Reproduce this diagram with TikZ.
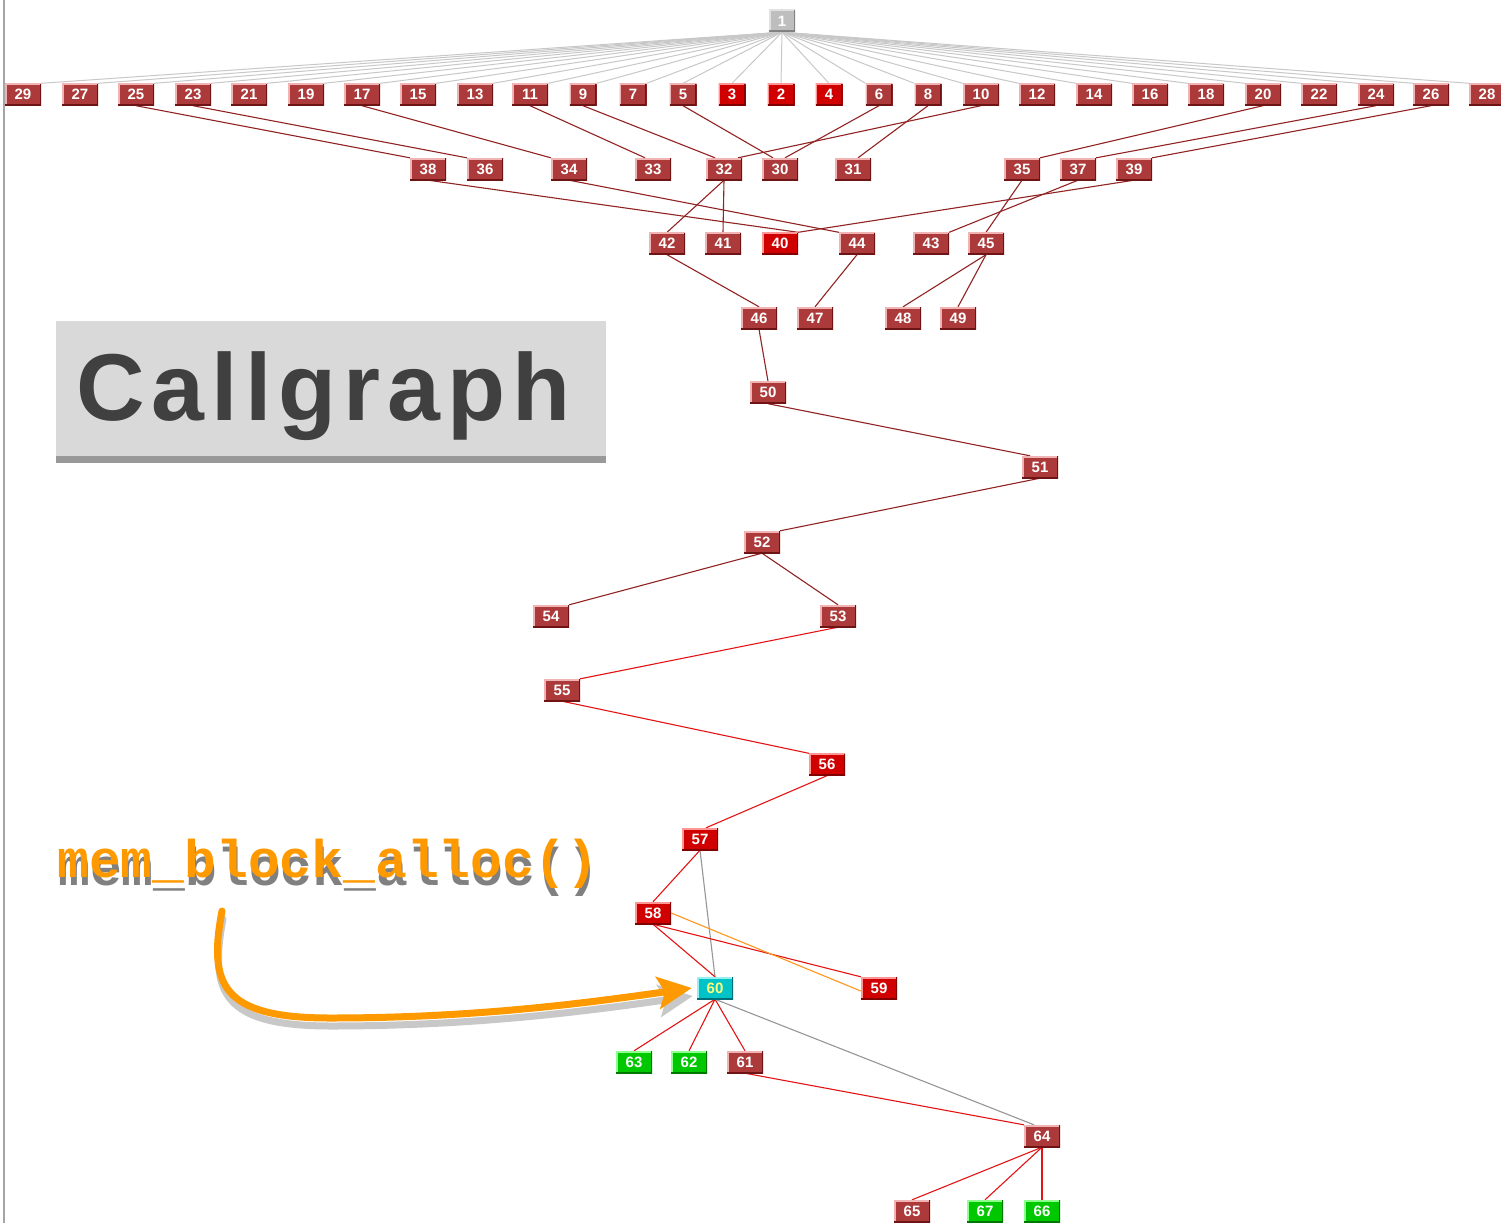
\documentclass[tikz,border=0pt]{standalone}
\usepackage{fontspec}
\setmainfont{Liberation Sans}
\newfontfamily\codefont{Liberation Mono}
\newfontfamily\titlefont{Liberation Sans}[LetterSpace=7.4]
\usetikzlibrary{backgrounds,arrows.meta,calc}
\definecolor{boxbrown}{RGB}{172,58,58}
\definecolor{boxbrownL}{RGB}{240,180,180}
\definecolor{boxbrownD}{RGB}{110,20,20}
\definecolor{boxred}{RGB}{208,0,0}
\definecolor{boxredL}{RGB}{255,150,150}
\definecolor{boxredD}{RGB}{130,0,0}
\definecolor{boxgreen}{RGB}{0,200,0}
\definecolor{boxgreenL}{RGB}{140,255,140}
\definecolor{boxgreenD}{RGB}{0,120,0}
\definecolor{boxcyan}{RGB}{0,195,200}
\definecolor{boxcyanL}{RGB}{150,240,240}
\definecolor{boxcyanD}{RGB}{0,110,120}
\definecolor{boxgray}{RGB}{190,190,190}
\definecolor{boxgrayL}{RGB}{225,225,225}
\definecolor{boxgrayD}{RGB}{130,130,130}
\definecolor{labelyellow}{RGB}{255,255,120}
\definecolor{edgebrown}{RGB}{145,35,35}
\definecolor{edgered}{RGB}{228,20,20}
\definecolor{edgefan}{RGB}{200,200,200}
\definecolor{edgegray}{RGB}{150,150,150}
\definecolor{edgeorange}{RGB}{255,150,30}
\definecolor{accent}{RGB}{255,153,0}
\definecolor{shadowtext}{RGB}{128,128,128}
\definecolor{shadowline}{RGB}{200,200,200}
\definecolor{titlefill}{RGB}{217,217,217}
\definecolor{titlebar}{RGB}{153,153,153}
\definecolor{titletext}{RGB}{64,64,64}
\definecolor{frameline}{RGB}{165,165,165}
\tikzset{
  gnode/.style n args={3}{draw=none, fill=#1, minimum width=36pt, minimum height=22pt,
    inner sep=0pt, text=white, font=\bfseries\fontsize{15}{15}\selectfont,
    path picture={
      \draw[#2,line width=3pt] (path picture bounding box.south west) -- (path picture bounding box.north west) -- (path picture bounding box.north east);
      \draw[#3,line width=3pt] (path picture bounding box.south west) -- (path picture bounding box.south east) -- (path picture bounding box.north east);}},
  nbrown/.style={gnode={boxbrown}{boxbrownL}{boxbrownD}},
  nred/.style={gnode={boxred}{boxredL}{boxredD}},
  ngreen/.style={gnode={boxgreen}{boxgreenL}{boxgreenD}},
  ncyan/.style={gnode={boxcyan}{boxcyanL}{boxcyanD}, text=labelyellow},
  ngray/.style={gnode={boxgray}{boxgrayL}{boxgrayD}, minimum width=26pt},
  narrow/.style={minimum width=27pt},
  ebrown/.style={draw=edgebrown, line width=1.1pt},
  ered/.style={draw=edgered, line width=1.1pt},
  efan/.style={draw=edgefan, line width=1pt},
  egray/.style={draw=edgegray, line width=1.1pt},
  eorange/.style={draw=edgeorange, line width=1.1pt},
  bigarrow/.style={line width=7pt, line cap=round, -{Stealth[length=34pt,width=32pt,inset=7pt]}},
}
\begin{document}
\begin{tikzpicture}[x=1pt,y=-1pt]
\useasboundingbox (0,0) rectangle (1501,1223);

% nodes
\node[ngray] (n1) at (782,21) {1};
\node[nbrown] (n29) at (23,94.5) {29};
\node[nbrown] (n27) at (80,94.5) {27};
\node[nbrown] (n25) at (136,94.5) {25};
\node[nbrown] (n23) at (193,94.5) {23};
\node[nbrown] (n21) at (249,94.5) {21};
\node[nbrown] (n19) at (306,94.5) {19};
\node[nbrown] (n17) at (362,94.5) {17};
\node[nbrown] (n15) at (418,94.5) {15};
\node[nbrown] (n13) at (475,94.5) {13};
\node[nbrown] (n11) at (530,94.5) {11};
\node[nbrown,narrow] (n9) at (583,94.5) {9};
\node[nbrown,narrow] (n7) at (633,94.5) {7};
\node[nbrown,narrow] (n5) at (683,94.5) {5};
\node[nred,narrow] (n3) at (732,94.5) {3};
\node[nred,narrow] (n2) at (781,94.5) {2};
\node[nred,narrow] (n4) at (829,94.5) {4};
\node[nbrown,narrow] (n6) at (879,94.5) {6};
\node[nbrown,narrow] (n8) at (928,94.5) {8};
\node[nbrown] (n10) at (981,94.5) {10};
\node[nbrown] (n12) at (1037,94.5) {12};
\node[nbrown] (n14) at (1094,94.5) {14};
\node[nbrown] (n16) at (1150,94.5) {16};
\node[nbrown] (n18) at (1206,94.5) {18};
\node[nbrown] (n20) at (1263,94.5) {20};
\node[nbrown] (n22) at (1319,94.5) {22};
\node[nbrown] (n24) at (1376,94.5) {24};
\node[nbrown] (n26) at (1431,94.5) {26};
\node[nbrown] (n28) at (1487,94.5) {28};

\node[nbrown] (n38) at (428,169) {38};
\node[nbrown] (n36) at (485,169) {36};
\node[nbrown] (n34) at (569,169) {34};
\node[nbrown] (n33) at (653,169) {33};
\node[nbrown] (n32) at (724,169) {32};
\node[nbrown] (n30) at (780,169) {30};
\node[nbrown] (n31) at (853,169) {31};
\node[nbrown] (n35) at (1022,169) {35};
\node[nbrown] (n37) at (1078,169) {37};
\node[nbrown] (n39) at (1134,169) {39};

\node[nbrown] (n42) at (667,243.5) {42};
\node[nbrown] (n41) at (723,243.5) {41};
\node[nred] (n40) at (780,243.5) {40};
\node[nbrown] (n44) at (857,243.5) {44};
\node[nbrown] (n43) at (931,243.5) {43};
\node[nbrown] (n45) at (986,243.5) {45};

\node[nbrown] (n46) at (759,318) {46};
\node[nbrown] (n47) at (815,318) {47};
\node[nbrown] (n48) at (903,318) {48};
\node[nbrown] (n49) at (958,318) {49};

\node[nbrown] (n50) at (768,392.5) {50};
\node[nbrown] (n51) at (1040,467) {51};
\node[nbrown] (n52) at (762,542) {52};
\node[nbrown] (n54) at (551,616) {54};
\node[nbrown] (n53) at (838,616) {53};
\node[nbrown] (n55) at (562,690) {55};
\node[nred] (n56) at (827,764.5) {56};
\node[nred] (n57) at (700,839) {57};
\node[nred] (n58) at (653,913) {58};
\node[nred] (n59) at (879,988) {59};
\node[ncyan] (n60) at (715,988) {60};
\node[ngreen] (n63) at (634,1062) {63};
\node[ngreen] (n62) at (689,1062) {62};
\node[nbrown] (n61) at (745,1062) {61};
\node[nbrown] (n64) at (1042,1136) {64};
\node[nbrown] (n65) at (912,1211) {65};
\node[ngreen] (n67) at (985,1211) {67};
\node[ngreen] (n66) at (1042,1211) {66};

% edges (behind the nodes)
\begin{pgfonlayer}{background}
\fill[white] (0,0) rectangle (1501,1223);
\draw[frameline, line width=2pt] (4,0) -- (4,1223);
\foreach \n/\a in {29/north east,27/north east,25/north east,23/north east,21/north east,19/north east,17/north east,15/north east,13/north east,11/north east,9/north east,7/north east,5/north,3/north,2/north,4/north,6/north west,8/north west,10/north west,12/north west,14/north west,16/north west,18/north west,20/north west,22/north west,24/north west,26/north west,28/north west}
  \draw[efan] (n1.south) -- (n\n.\a);
\draw[ebrown] (n25.south) -- (n38.north west);
\draw[ebrown] (n23.south) -- (n36.north west);
\draw[ebrown] (n17.south) -- (n34.north west);
\draw[ebrown] (n11.south) -- ([xshift=-8pt]n33.north);
\draw[ebrown] (n9.south) -- ([xshift=-9pt]n32.north);
\draw[ebrown] (n5.south) -- ([xshift=-7pt]n30.north);
\draw[ebrown] (n6.south) -- ([xshift=5pt]n30.north);
\draw[ebrown] (n10.south) -- ([xshift=14pt]n32.north);
\draw[ebrown] (n8.south) -- ([xshift=5pt]n31.north);
\draw[ebrown] (n20.south) -- (n35.north east);
\draw[ebrown] (n24.south) -- (n37.north east);
\draw[ebrown] (n26.south) -- (n39.north east);
\draw[ebrown] (n38.south) -- (n40.north east);
\draw[ebrown] (n34.south) -- (n44.north west);
\draw[ebrown] (n39.south) -- (n40.north east);
\draw[ebrown] (n37.south) -- (n43.north east);
\draw[ebrown] (n35.south) -- (n45.north);
\draw[ebrown] (n32.south) -- (n42.north);
\draw[ebrown] (n32.south) -- (n41.north);
\draw[ebrown] (n42.south) -- (n46.north);
\draw[ebrown] (n44.south) -- (n47.north);
\draw[ebrown] (n45.south) -- (n48.north);
\draw[ebrown] (n45.south) -- (n49.north);
\draw[ebrown] (n46.south) -- (n50.north);
\draw[ebrown] (n50.south) -- ([xshift=-10pt]n51.north);
\draw[ebrown] (n51.south) -- (n52.north east);
\draw[ebrown] (n52.south) -- (n54.north east);
\draw[ebrown] (n52.south) -- (n53.north);
\draw[ered] (n53.south) -- (n55.north east);
\draw[ered] (n55.south) -- (n56.north west);
\draw[ered] (n56.south) -- ([xshift=6pt]n57.north);
\draw[ered] (n57.south) -- (n58.north);
\draw[egray] (n57.south) -- (n60.north);
\draw[ered] (n58.south) -- (n60.north);
\draw[ered] (n58.south) -- (n59.north west);
\draw[eorange] (n58.east) -- ([yshift=-3pt]n59.west);
\draw[ered] (n60.south) -- (n63.north);
\draw[ered] (n60.south) -- (n62.north);
\draw[ered] (n60.south) -- (n61.north);
\draw[egray] (n60.south) -- ([xshift=-8pt]n64.north);
\draw[ered] (n61.south) -- (n64.north west);
\draw[ered] (n64.south) -- (n65.north);
\draw[ered] (n64.south) -- (n67.north);
\draw[ered] (n64.south) -- (n66.north);
\end{pgfonlayer}

% title box
\fill[titlefill] (56,321) rectangle (606,458);
\fill[titlebar] (56,456) rectangle (606,463);
\node[anchor=base west, inner sep=0pt, text=titletext, font=\titlefont\bfseries\fontsize{95}{95}\selectfont] (title) at (76,420) {Callgraph};

% annotation
\node[anchor=base west, inner sep=0pt, text=shadowtext, font=\codefont\bfseries\fontsize{53}{53}\selectfont] (memshadow) at (58,885) {mem\_block\_alloc()};
\node[anchor=base west, inner sep=0pt, text=accent, font=\codefont\bfseries\fontsize{53}{53}\selectfont] (memlabel) at (57,877) {mem\_block\_alloc()};
\coordinate (arrowstart) at (222,911);
\begin{scope}[transform canvas={xshift=1pt,yshift=-8pt}]
\draw[bigarrow, shadowline] (arrowstart) .. controls (208,985) and (222,1018) .. (330,1018) .. controls (470,1018) and (580,1004) .. ([xshift=-5pt]n60.west);
\end{scope}
\draw[bigarrow, accent] (arrowstart) .. controls (208,985) and (222,1018) .. (330,1018) .. controls (470,1018) and (580,1004) .. ([xshift=-5pt]n60.west);
\end{tikzpicture}
\end{document}
